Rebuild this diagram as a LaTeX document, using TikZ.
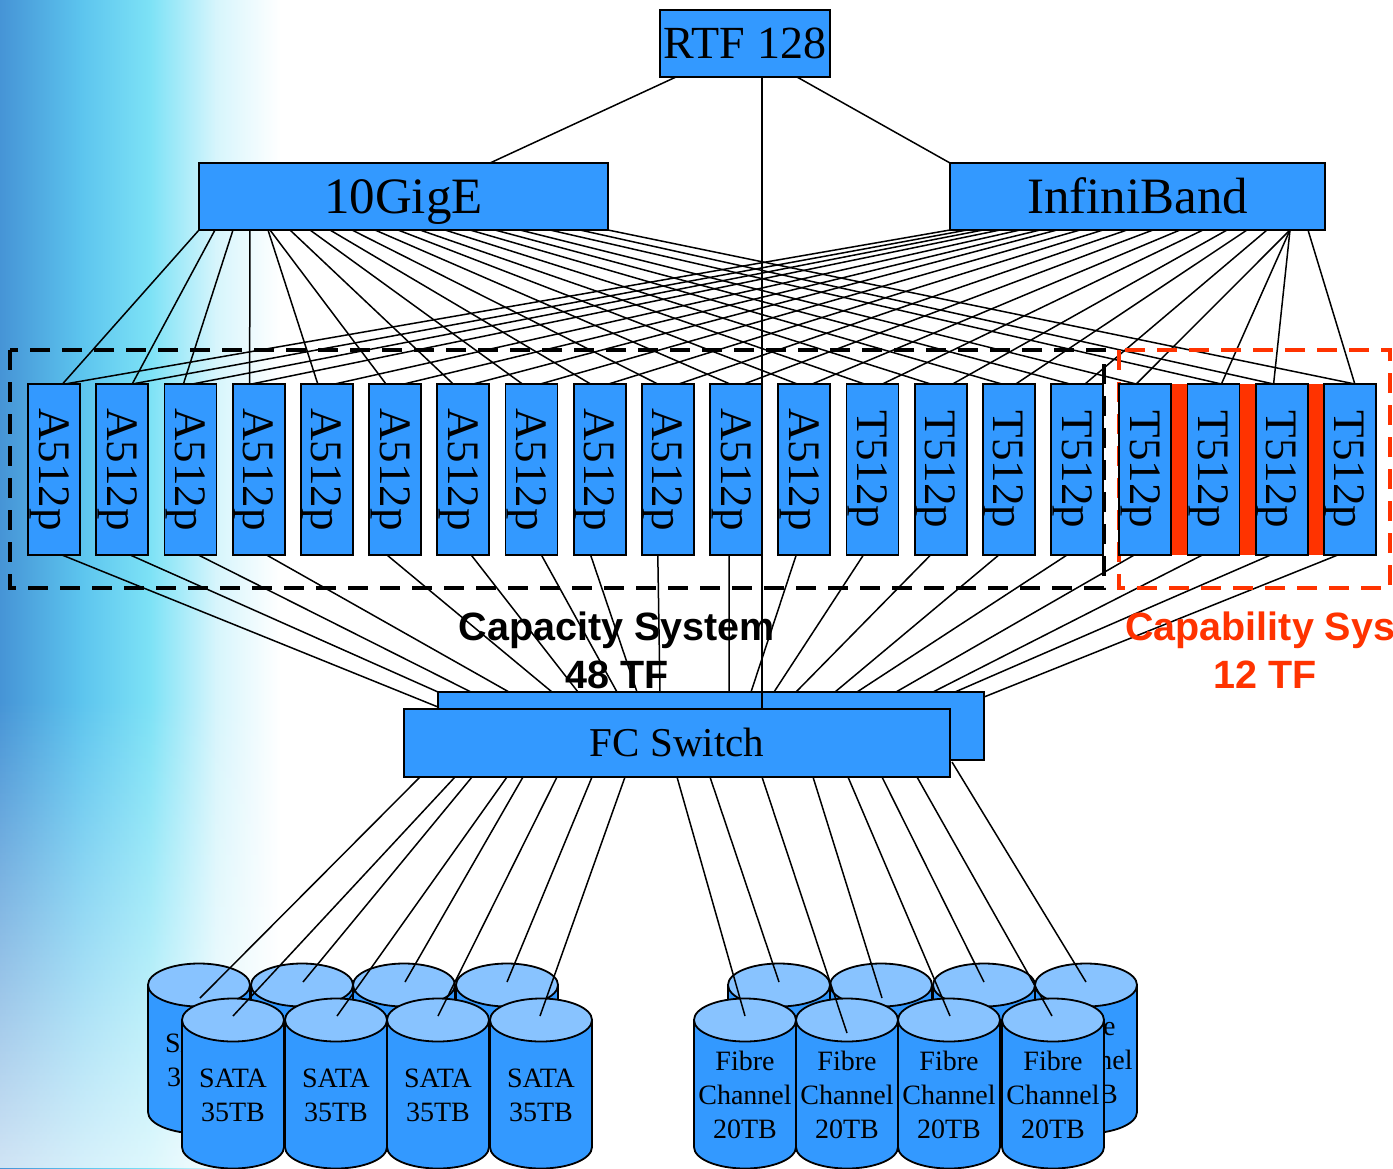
\documentclass[tikz,border=0pt]{standalone}
\usepackage{fontspec}
\setmainfont{Liberation Serif}
\newfontfamily\lblsans{Liberation Sans}
\usetikzlibrary{calc,fadings}
\definecolor{boxblue}{RGB}{51,153,255}
\definecolor{cyltopc}{RGB}{136,195,255}
\definecolor{capred}{RGB}{255,51,0}
\definecolor{bgA}{RGB}{70,148,214}
\definecolor{bgB}{RGB}{92,196,238}
\definecolor{bgC}{RGB}{125,226,246}
\definecolor{bgD}{RGB}{214,245,252}
\pgfdeclarelayer{backdrop}
\pgfdeclarelayer{wires}
\pgfsetlayers{backdrop,wires,main}
\newcommand\drawcyl[2]{%
  \filldraw[cylside] ({#1-51},{#2}) -- ({#1-51},{#2+127}) arc[start angle=180,end angle=0,x radius=51,y radius=21.5] -- ({#1+51},{#2}) -- cycle;
  \filldraw[cyltop] (#1,#2) ellipse[x radius=51,y radius=21.5];
}
\begin{document}
\begin{tikzpicture}[x=1pt,y=-1pt,
  conn/.style={line width=1.5pt, draw=black},
  netbox/.style={draw=black, line width=1.8pt, fill=boxblue, inner sep=0pt, outer sep=0pt},
  vbox/.style={netbox, rotate=-90, minimum width=171pt, minimum height=52pt, font=\fontsize{45}{45}\selectfont, text height=29.8pt, text depth=0pt},
  grpbox/.style={line width=3.5pt, dash pattern=on 20pt off 12pt},
  cylside/.style={fill=boxblue, draw=black, line width=1.8pt},
  cyltop/.style={fill=cyltopc, draw=black, line width=1.8pt},
  cyltext/.style={align=center, font=\fontsize{28}{34}\selectfont, inner sep=0pt},
  lbl/.style={font=\lblsans\bfseries\fontsize{39.5}{48}\selectfont, inner sep=0pt}]
\useasboundingbox (0,0) rectangle (1393,1168);

\begin{pgfonlayer}{backdrop}
  \fill[white] (0,0) rectangle (1393,1168);
  \shade[left color=bgA, right color=bgB] (0,0) rectangle (81,1168);
  \shade[left color=bgB, right color=bgC] (80,0) rectangle (151,1168);
  \shade[left color=bgC, right color=bgD] (150,0) rectangle (216,1168);
  \shade[left color=bgD, right color=white] (215,0) rectangle (280,1168);
  \fill[white, opacity=0.75, path fading=north] (0,700) rectangle (300,1168);
\end{pgfonlayer}

% main nodes
\node[netbox, minimum width=170pt, minimum height=67pt, font=\fontsize{46}{46}\selectfont, text height=30.5pt, text depth=0pt] (rtf) at (745,43.5) {RTF 128};
\node[netbox, minimum width=409pt, minimum height=67pt, font=\fontsize{51}{51}\selectfont, text height=33.8pt, text depth=0pt] (g10) at (403.5,196.5) {10GigE};
\node[netbox, minimum width=375pt, minimum height=67pt, font=\fontsize{51}{51}\selectfont, text height=33.8pt, text depth=0pt] (ib) at (1137.5,196.5) {InfiniBand};
\foreach \i in {1,...,20}{
  \pgfmathsetmacro{\bx}{54+68.2*(\i-1)}
  \ifnum\i<13 \def\lbltxt{A512p}\else\def\lbltxt{T512p}\fi
  \node[vbox] (b\i) at (\bx,469.5) {\lbltxt};
}
\node[netbox, minimum width=546pt, minimum height=68pt, font=\fontsize{41}{41}\selectfont, text height=27pt, text depth=0pt] (fcf) at (677,743) {FC Switch};

\node[lbl, align=center] (capy) at (617,650) {Capacity System\\48 TF};
\node[lbl, text=capred, anchor=base west] (capb) at (1125,640) {Capability System};
\node[lbl, text=capred, anchor=base] (capbtf) at (1265,688) {12 TF};

\begin{pgfonlayer}{wires}
  \draw[conn] ($(rtf.south west)+(16,0)$) -- ($(g10.north west)+(291,0)$);
  \draw[conn] ($(rtf.south west)+(137,0)$) -- (ib.north west);
  \foreach \i/\gs/\go/\is/\io in {1/199/8.5/950/11, 2/215/10/967/10, 3/233/-7/983/2, 4/250/-9/1000/-7,
     5/268/-9/1020/8, 6/270/-9/1040/9, 7/290/-10/1057/10, 8/310/-9/1080/9, 9/330/-9/1103/9,
     10/352/-10/1127/11, 11/375/-6/1153/8, 12/398/-7/1180/8, 13/420/-8/1203/10, 14/445/-10/1227/12,
     15/470/-7/1247/7, 16/495/-7/1267/8, 17/520/-9/1290/-9, 18/550/8/1290/8, 19/580/-8/1290/-8, 20/608/5/1308/5}{
    \draw[conn] ($(g10.south west)+(\gs-199,0)$) -- ($(b\i.west)+(\go,0)$);
    \draw[conn] ($(ib.south west)+(\is-950,0)$) -- ($(b\i.west)+(\io,0)$);
  }
  \node[netbox, minimum width=546pt, minimum height=68pt] (fcb) at (711,726) {};
  \foreach \i/\so/\ex/\ey in {1/8/0/15, 2/8/0/0, 3/8/33/0, 4/8/71/0, 6/-8/114/0, 7/8/140/0, 8/10/179/0,
     9/-9/199/0, 10/-10/222/0, 11/-7/291/0, 12/-8/313/0, 13/-9/336/0, 14/-10/358/0, 15/-10/397/0,
     16/-10/419/0, 17/-11/458/0, 18/-11/495/0, 19/-11/517/0, 20/-12/546/5}{
    \draw[conn] ($(b\i.east)+(\so,0)$) -- ($(fcb.north west)+(\ex,\ey)$);
  }
  \draw[conn] ($(rtf.south west)+(102,0)$) -- ($(fcf.north west)+(358,0)$);
  \draw[grpbox, black] (10,350) rectangle (1104,588);
  \draw[grpbox, capred] (1119,350) rectangle (1390,588);
  \fill[capred] (b17.north west) rectangle (b20.south east);
\end{pgfonlayer}

% storage
\drawcyl{199}{985}\drawcyl{302}{985}\drawcyl{404}{985}\drawcyl{507}{985}
\drawcyl{779}{985}\drawcyl{881}{985}\drawcyl{984}{985}\drawcyl{1086}{985}
\foreach \cx/\nm in {199/cSB1, 302/cSB2, 404/cSB3, 507/cSB4}
  \node[cyltext] (\nm) at (\cx,1060) {SATA\\35TB};
\foreach \cx/\nm in {779/cFB1, 881/cFB2, 984/cFB3, 1086/cFB4}
  \node[cyltext] (\nm) at (\cx,1060) {Fibre\\Channel\\20TB};
\drawcyl{233}{1020}\drawcyl{336}{1020}\drawcyl{438}{1020}\drawcyl{541}{1020}
\drawcyl{745}{1020}\drawcyl{847}{1020}\drawcyl{949}{1020}\drawcyl{1053}{1020}
\foreach \cx/\nm in {233/cSF1, 336/cSF2, 438/cSF3, 541/cSF4}
  \node[cyltext] (\nm) at (\cx,1095) {SATA\\35TB};
\foreach \cx/\nm in {745/cFF1, 847/cFF2, 949/cFF3, 1053/cFF4}
  \node[cyltext] (\nm) at (\cx,1095) {Fibre\\Channel\\20TB};

\coordinate (pSB1) at (200,998); \coordinate (pSB2) at (303,982);
\coordinate (pSB3) at (405,982); \coordinate (pSB4) at (507,982);
\coordinate (pSF1) at (233,1016); \coordinate (pSF2) at (337,1016);
\coordinate (pSF3) at (438,1016); \coordinate (pSF4) at (540,1016);
\coordinate (pFB1) at (779,982); \coordinate (pFB2) at (882,998);
\coordinate (pFB3) at (984,982); \coordinate (pFB4) at (1086,982);
\coordinate (pFF1) at (745,1016); \coordinate (pFF2) at (847,1033);
\coordinate (pFF3) at (950,1016); \coordinate (pFF4) at (1052,1016);

\foreach \sx/\tgt in {420/pSB1, 455/pSF1, 472/pSB2, 507/pSF2, 523/pSB3, 557/pSF3, 592/pSB4, 625/pSF4,
   677/pFF1, 710/pFB1, 762/pFF2, 813/pFB2, 848/pFF3, 882/pFB3, 917/pFF4}
  \draw[conn] ($(fcf.south west)+(\sx-404,0)$) -- (\tgt);
\draw[conn] ($(fcf.south east)+(2,-15)$) -- (pFB4);
\end{tikzpicture}
\end{document}
